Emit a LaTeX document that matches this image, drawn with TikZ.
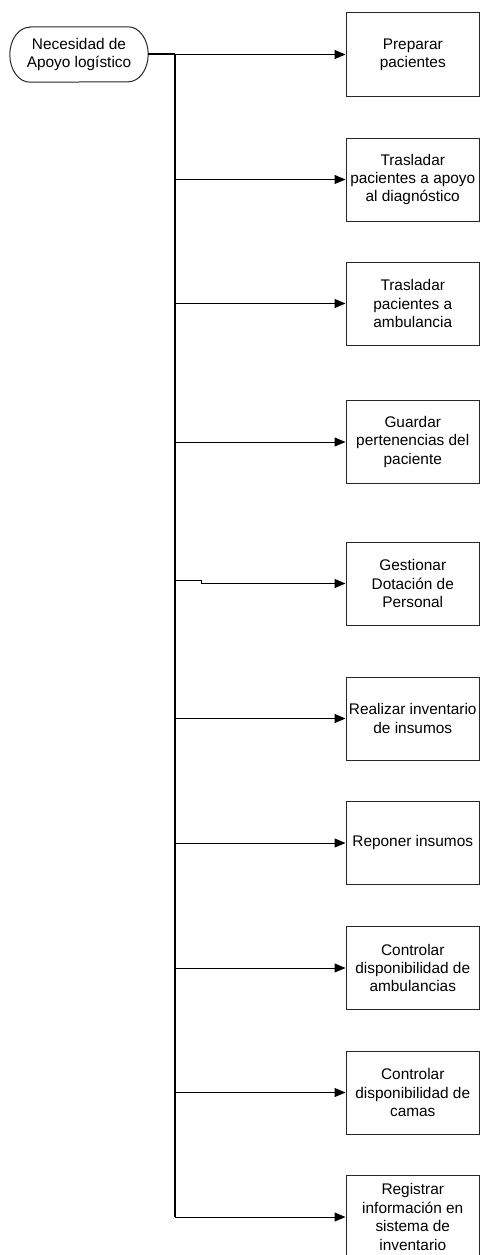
\documentclass[tikz,border=0pt]{standalone}
\usepackage{fontspec}
\setmainfont{Liberation Sans}
\usetikzlibrary{arrows.meta}
\begin{document}
\begin{tikzpicture}[x=1pt,y=1pt,
  font=\fontsize{15.4}{18.4}\selectfont,
  task/.style={draw=black!85, line width=1pt, minimum width=133.5pt, minimum height=83pt,
    inner sep=0pt, align=center, anchor=west},
  flow/.style={draw=black, line width=1pt, -{Triangle[length=11pt,width=9pt]}},
  trunk/.style={draw=black, line width=1.3pt}]
\useasboundingbox (0,0) rectangle (480,-1255);
\clip (0,0) rectangle (480,-1255);

% start event with elliptical ends
\node[minimum width=138pt, minimum height=55pt, inner sep=0pt, align=center] (s) at (79,-54.5)
  {Necesidad de\\Apoyo logístico};
\draw[black!85, line width=1pt]
  ([xshift=20pt]s.north west) -- ([xshift=-20pt]s.north east)
  arc[start angle=90, end angle=-90, x radius=20pt, y radius=27.5pt]
  -- ([xshift=20pt]s.south west)
  arc[start angle=270, end angle=90, x radius=20pt, y radius=27.5pt] -- cycle;

% activities
\node[task] (b1)  at (345.5,-54.5)  {Preparar\\pacientes};
\node[task] (b2)  at (345.5,-179.5) {Trasladar\\pacientes a apoyo\\al diagnóstico};
\node[task] (b3)  at (345.5,-303.5) {Trasladar\\pacientes a\\ambulancia};
\node[task] (b4)  at (345.5,-442)   {Guardar\\pertenencias del\\paciente};
\node[task] (b5)  at (345.5,-583.5) {Gestionar\\Dotación de\\Personal};
\node[task] (b6)  at (345.5,-718.5) {Realizar inventario\\de insumos};
\node[task] (b7)  at (345.5,-843)   {Reponer insumos};
\node[task] (b8)  at (345.5,-968)   {Controlar\\disponibilidad de\\ambulancias};
\node[task] (b9)  at (345.5,-1092.5){Controlar\\disponibilidad de\\camas};
\node[task] (b10) at (345.5,-1217)  {Registrar\\información en\\sistema de\\inventario};

% junctions on the vertical trunk
\coordinate (j1)  at (175,-54.5);
\coordinate (j2)  at (175,-179.5);
\coordinate (j3)  at (175,-303.5);
\coordinate (j4)  at (175,-442);
\coordinate (j5)  at (175,-580.8);
\coordinate (j6)  at (175,-718.5);
\coordinate (j7)  at (175,-843);
\coordinate (j8)  at (175,-968);
\coordinate (j9)  at (175,-1092.5);
\coordinate (j10) at (175,-1217);

% connectors
\draw[line width=2pt] (s.east) -- (j1);
\draw[trunk] (j1) -- (j10);
\draw[flow] (j1) -- (b1.west);
\draw[flow] (j2) -- (b2.west);
\draw[flow] (j3) -- (b3.west);
\draw[flow] (j4) -- (b4.west);
\draw[flow] (j5) -- ++(26.5,0) -- ++(0,-2.7) -- (b5.west);
\draw[flow] (j6) -- (b6.west);
\draw[flow] (j7) -- (b7.west);
\draw[flow] (j8) -- (b8.west);
\draw[flow] (j9) -- (b9.west);
\draw[flow] (j10) -- (b10.west);
\end{tikzpicture}
\end{document}
